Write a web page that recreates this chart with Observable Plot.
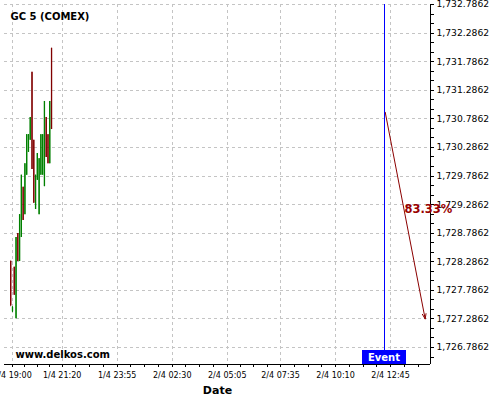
<!DOCTYPE html>
<html><head><meta charset="utf-8">
<script src="https://cdn.jsdelivr.net/npm/d3@7"></script>
<script src="https://cdn.jsdelivr.net/npm/@observablehq/plot@0.6"></script>
<style>
html,body{margin:0;padding:0;background:#fff;}
</style></head>
<body><div id="chart"></div>
<script>
// ---- data ----
const chartTitle = "GC 5 (COMEX)";
const siteLabel = "www.delkos.com";
const xAxisTitle = "Date";

// bar index: 0 = 1/4 19:00, one bar = 5 minutes
const xTickBars = [0, 28, 59, 90, 121, 151, 182, 213];
const xTickLabels = ["1/4 19:00", "1/4 21:20", "1/4 23:55", "2/4 02:30", "2/4 05:05", "2/4 07:35", "2/4 10:10", "2/4 12:45"];
const yTicks = [1726.7862, 1727.2862, 1727.7862, 1728.2862, 1728.7862, 1729.2862, 1729.7862, 1730.2862, 1730.7862, 1731.2862, 1731.7862, 1732.2862, 1732.7862];

const bars  = [-1, 0, 1, 2, 3, 4, 5, 6, 7, 8, 9, 10, 11, 12, 13, 14, 15, 16, 17, 18, 19, 20, 21, 22];
const open  = [1728.29, 1727.41, 1728.19, 1727.29, 1728.78, 1728.29, 1728.71, 1729.59, 1729.11, 1729.80, 1730.20, 1730.41, 1731.60, 1730.41, 1729.20, 1729.71, 1729.11, 1729.80, 1729.80, 1729.60, 1730.81, 1730.51, 1730.00, 1732.02];
const high  = [1728.30, 1727.50, 1728.19, 1728.71, 1728.78, 1729.11, 1729.80, 1729.59, 1730.00, 1730.51, 1730.51, 1730.81, 1731.60, 1730.41, 1729.80, 1730.18, 1730.09, 1730.51, 1730.51, 1731.09, 1730.81, 1730.51, 1731.09, 1732.02];
const low   = [1727.50, 1727.40, 1727.70, 1727.29, 1728.29, 1728.29, 1728.71, 1729.01, 1729.11, 1729.80, 1730.20, 1730.41, 1729.90, 1729.31, 1729.20, 1729.71, 1729.11, 1729.80, 1729.80, 1729.60, 1730.11, 1730.00, 1730.00, 1730.60];
const close = [1727.52, 1727.49, 1727.70, 1728.71, 1728.29, 1729.11, 1729.80, 1729.01, 1730.00, 1730.51, 1730.51, 1730.81, 1729.90, 1729.31, 1729.80, 1730.18, 1730.09, 1730.51, 1730.51, 1731.09, 1730.11, 1730.00, 1731.09, 1730.60];

const eventBar = 210;          // 2/4 12:30
const eventLabel = "Event";
const forecastStartPrice = 1730.90;
const forecastEndBar = 232.5;
const forecastEndPrice = 1727.2862;
const forecastLabel = "83.33%";
const forecastLabelBar = 220.8;
const forecastLabelPrice = 1729.20;

const xDomain = [-4.5, 235.5];
const yDomain = [1726.489, 1732.7862];

// ---- derived ----
const candles = bars.map((b, i) => ({bar: b, open: open[i], high: high[i], low: low[i], close: close[i],
  up: close[i] >= open[i]}));
const labelOf = new Map(xTickBars.map((b, i) => [b, xTickLabels[i]]));

const minorX = [];
for (let k = 0; k < xTickBars.length - 1; k++) {
  const a = xTickBars[k], b = xTickBars[k + 1];
  for (let q = 1; q < 4; q++) minorX.push(a + (b - a) * q / 4);
}
{
  const step = (xTickBars[xTickBars.length - 1] - xTickBars[xTickBars.length - 2]) / 4;
  for (let v = xTickBars[xTickBars.length - 1] + step; v < xDomain[1]; v += step) minorX.push(v);
}
const minorY = [];
for (let k = 0; k < yTicks.length - 1; k++) {
  for (let q = 1; q < 3; q++) minorY.push(yTicks[k] + (yTicks[k + 1] - yTicks[k]) * q / 3);
}
minorY.push(yTicks[0] - (yTicks[1] - yTicks[0]) / 3);

const RED = "#800000", GREEN = "#008000", BLUE = "#0000ff", ARROW = "#8b0000";
const FONT = "DejaVu Sans";

// event marker: vertical line and labelled box, positioned from the x scale
function eventMarker(index, scales, values, dimensions) {
  const px = Math.floor(scales.x(eventBar));
  const top = dimensions.marginTop;
  const bottom = dimensions.height - dimensions.marginBottom;
  const g = d3.create("svg:g");
  g.append("line").attr("x1", px + 0.5).attr("x2", px + 0.5).attr("y1", top).attr("y2", bottom)
    .attr("stroke", BLUE).attr("stroke-width", 1);
  g.append("rect").attr("x", px - 22).attr("y", bottom - 14).attr("width", 44).attr("height", 14).attr("fill", BLUE);
  g.append("text").attr("x", px).attr("y", bottom - 3).attr("text-anchor", "middle")
    .attr("fill", "white").attr("font-weight", "bold").attr("font-size", 10).attr("font-family", FONT)
    .text(eventLabel);
  return g.node();
}

const chart = Plot.plot({
  width: 500,
  height: 400,
  marginLeft: 4,
  marginRight: 70,
  marginTop: 4,
  marginBottom: 36,
  style: {fontFamily: FONT, background: "white", overflow: "visible"},
  x: {domain: xDomain},
  y: {domain: yDomain},
  marks: [
    Plot.gridX({ticks: xTickBars, stroke: "#c4c4c4", strokeOpacity: 1, strokeDasharray: "3,3", shapeRendering: "crispEdges"}),
    Plot.gridY({ticks: yTicks, stroke: "#c4c4c4", strokeOpacity: 1, strokeDasharray: "3,3", shapeRendering: "crispEdges"}),
    Plot.axisX({ticks: minorX, tickSize: 3, text: null, anchor: "bottom", shapeRendering: "crispEdges"}),
    Plot.axisX({ticks: xTickBars, anchor: "bottom", tickSize: 3, tickPadding: 5, fontSize: 8,
      tickFormat: d => labelOf.get(d), label: null, shapeRendering: "crispEdges"}),
    Plot.axisY({ticks: minorY, anchor: "right", tickSize: 3, text: null, shapeRendering: "crispEdges"}),
    Plot.axisY({ticks: yTicks, anchor: "right", tickSize: 3, tickPadding: 3, fontSize: 9.2,
      tickFormat: d3.format(",.4f"), label: null, shapeRendering: "crispEdges"}),
    Plot.ruleY([yDomain[0]], {stroke: "black", shapeRendering: "crispEdges"}),
    Plot.ruleX([xDomain[1]], {stroke: "black", shapeRendering: "crispEdges"}),
    Plot.ruleX(candles, {x: "bar", y1: "low", y2: "high", stroke: d => d.up ? GREEN : RED, strokeWidth: 1}),
    Plot.ruleX(candles, {x: "bar", y1: "open", y2: "close", stroke: d => d.up ? GREEN : RED, strokeWidth: 1.3}),
    Plot.arrow([{x1: eventBar, y1: forecastStartPrice, x2: forecastEndBar, y2: forecastEndPrice}],
      {x1: "x1", y1: "y1", x2: "x2", y2: "y2", stroke: ARROW, strokeWidth: 1, headLength: 8, headAngle: 40}),
    Plot.text([forecastLabel], {x: forecastLabelBar, y: forecastLabelPrice, text: d => d, textAnchor: "start",
      lineAnchor: "middle", fill: "#990000", fontWeight: "bold", fontSize: 11.5}),
    eventMarker,
    Plot.text([chartTitle], {frameAnchor: "top-left", dx: 6, dy: 12.1, lineAnchor: "middle", text: d => d,
      textAnchor: "start", fontWeight: "bold", fontSize: 10, fill: "black"}),
    Plot.text([siteLabel], {frameAnchor: "bottom-left", dx: 11, dy: -9.7, lineAnchor: "middle", text: d => d,
      textAnchor: "start", fontWeight: "bold", fontSize: 10, fill: "black"}),
    Plot.text([xAxisTitle], {frameAnchor: "bottom", dy: 26, lineAnchor: "middle", text: d => d,
      fontWeight: "bold", fontSize: 11, fill: "black"})
  ]
});
document.getElementById("chart").appendChild(chart);
</script>
</body></html>
